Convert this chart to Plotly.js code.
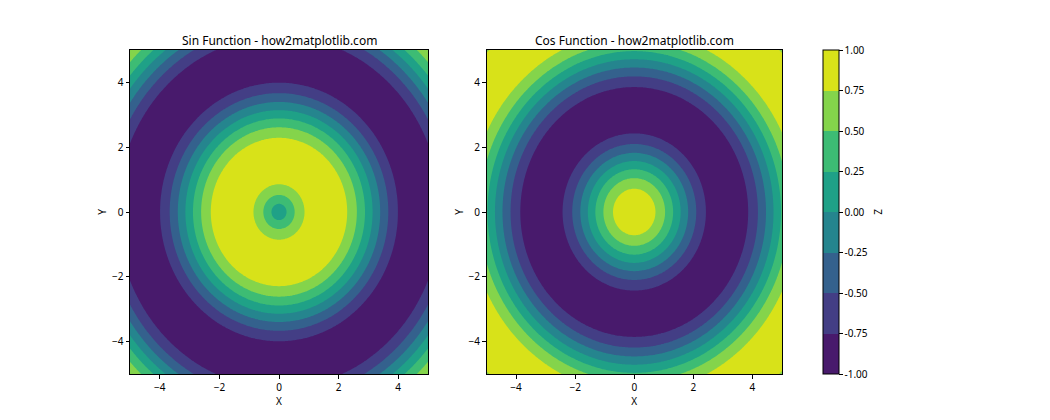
<!DOCTYPE html>
<html>
<head>
<meta charset="utf-8">
<script src="https://cdn.plot.ly/plotly-3.0.1.min.js"></script>
<style>html,body{margin:0;padding:0;background:#fff;}#chart{width:1050px;height:420px;}</style>
</head>
<body>
<div id="chart"></div>
<script>
// Radial profile of Z (distance from centre -> value)
const radius = [0,0.25,0.5,0.75,1.0,1.25,1.5,1.75,2.0,2.25,2.5,2.75,3.0,3.25,3.5,3.75,4.0,4.25,4.5,4.75,5.0,5.25,5.5,5.75,6.0,6.25,6.5,6.75,7.0,7.25];
const sinProfile = [0,0.247,0.479,0.682,0.841,0.949,0.997,0.984,0.909,0.778,0.598,0.382,0.141,-0.108,-0.351,-0.572,-0.757,-0.895,-0.978,-0.999,-0.959,-0.859,-0.706,-0.508,-0.279,-0.033,0.215,0.450,0.657,0.823];
const cosProfile = [1,0.969,0.878,0.732,0.540,0.315,0.071,-0.178,-0.416,-0.628,-0.801,-0.924,-0.990,-0.994,-0.936,-0.820,-0.654,-0.446,-0.211,0.037,0.284,0.512,0.709,0.861,0.960,0.999,0.977,0.893,0.754,0.567];
const levels = [-1,-0.75,-0.5,-0.25,0,0.25,0.5,0.75,1];
const bandColors = ['#481a6c','#433e85','#34618d','#25858e','#1fa187','#3dbc74','#84d44b','#d8e219'];
const axisTicks = [-4,-2,0,2,4];
const titles = ['Sin Function - how2matplotlib.com','Cos Function - how2matplotlib.com'];

const N = 201;
const grid = [];
for (let i = 0; i < N; i++) grid.push(-5 + 10 * i / (N - 1));

function lookup(profile, r) {
  const step = radius[1] - radius[0];
  let k = Math.floor(r / step);
  if (k >= radius.length - 1) k = radius.length - 2;
  const t = (r - radius[k]) / step;
  return profile[k] * (1 - t) + profile[k + 1] * t;
}
function makeZ(profile) {
  const z = [];
  for (let j = 0; j < N; j++) {
    const row = [];
    for (let i = 0; i < N; i++) row.push(lookup(profile, Math.hypot(grid[i], grid[j])));
    z.push(row);
  }
  return z;
}

const colorscale = [];
bandColors.forEach((c, k) => {
  colorscale.push([k / bandColors.length, c]);
  colorscale.push([(k + 1) / bandColors.length, c]);
});

const W = 1050, H = 420;
const font = {family: 'Noto Sans, DejaVu Sans, sans-serif', color: '#000', size: 10};

function trace(profile, xa, ya, showscale) {
  return {
    type: 'contour', x: grid, y: grid, z: makeZ(profile),
    xaxis: xa, yaxis: ya,
    zmin: -1, zmax: 1, autocontour: false,
    contours: {start: levels[0], end: levels[levels.length - 1], size: levels[1] - levels[0], coloring: 'fill', showlines: false},
    line: {width: 0, smoothing: 0},
    colorscale: colorscale,
    showscale: showscale,
    hoverinfo: 'skip',
    colorbar: {
      x: 823 / W, xanchor: 'left', xpad: 0, ypad: 0,
      y: 46 / H, yanchor: 'bottom', len: 324 / H, lenmode: 'fraction',
      thickness: 16, thicknessmode: 'pixels',
      outlinewidth: 1, outlinecolor: '#000',
      tickmode: 'array', tickvals: levels, ticktext: levels.map(v => v.toFixed(2)),
      ticks: 'outside', ticklen: 3.5, tickwidth: 1, tickcolor: '#000',
      tickfont: font
    }
  };
}

function xaxis(domain) {
  return {domain: domain, range: [-5, 5], tickmode: 'array', tickvals: axisTicks,
    ticks: 'outside', ticklen: 3.5, tickcolor: '#000', showline: true, mirror: true,
    linecolor: '#000', linewidth: 1, showgrid: false, zeroline: false, tickfont: font,
    title: {text: 'X', font: font, standoff: 4}};
}
function yaxis(domain, anchor) {
  return {domain: domain, anchor: anchor, range: [-5, 5], tickmode: 'array', tickvals: axisTicks,
    ticks: 'outside', ticklen: 3.5, tickcolor: '#000', showline: true, mirror: true,
    linecolor: '#000', linewidth: 1, showgrid: false, zeroline: false, tickfont: font,
    title: {text: 'Y', font: font, standoff: 3}};
}

const yDom = [46 / H, 370 / H];
const layout = {
  width: W, height: H,
  margin: {l: 0, r: 0, t: 0, b: 0},
  paper_bgcolor: '#fff', plot_bgcolor: '#fff',
  showlegend: false,
  xaxis: Object.assign(xaxis([130 / W, 428 / W]), {anchor: 'y'}),
  yaxis: yaxis(yDom, 'x'),
  xaxis2: Object.assign(xaxis([486.5 / W, 782 / W]), {anchor: 'y2'}),
  yaxis2: yaxis(yDom, 'x2'),
  annotations: [
    {text: titles[0], xref: 'paper', yref: 'paper', x: 279 / W, y: (H - 40) / H, xanchor: 'center', yanchor: 'middle', showarrow: false, font: {family: font.family, size: 12, color: '#000'}},
    {text: titles[1], xref: 'paper', yref: 'paper', x: 634 / W, y: (H - 40) / H, xanchor: 'center', yanchor: 'middle', showarrow: false, font: {family: font.family, size: 12, color: '#000'}},
    {text: 'Z', xref: 'paper', yref: 'paper', x: 878 / W, y: (H - 212) / H, xanchor: 'center', yanchor: 'middle', textangle: 90, showarrow: false, font: font}
  ]
};

Plotly.newPlot('chart', [trace(sinProfile, 'x', 'y', false), trace(cosProfile, 'x2', 'y2', true)], layout, {staticPlot: true, displayModeBar: false});
</script>
</body>
</html>
